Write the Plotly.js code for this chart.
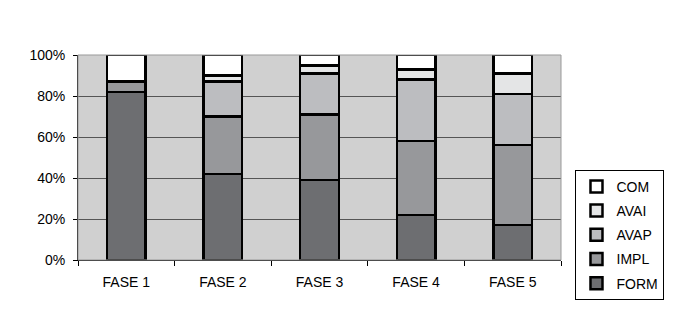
<!DOCTYPE html>
<html><head><meta charset="utf-8">
<script src="https://cdn.plot.ly/plotly-3.0.1.min.js"></script>
<style>body{margin:0;background:#fff}#c{width:676px;height:314px}</style>
</head><body><div id="c"></div>
<script>
const categories = ["FASE 1","FASE 2","FASE 3","FASE 4","FASE 5"];
const FORM = [82, 42, 39, 22, 17];
const IMPL = [5, 28, 32, 36, 39];
const AVAP = [0, 17, 20, 30, 25];
const AVAI = [0, 3, 4, 5, 10];
const COM  = [13, 10, 5, 7, 9];
const seriesNames = ["FORM","IMPL","AVAP","AVAI","COM"];
const seriesValues = [FORM, IMPL, AVAP, AVAI, COM];
const colors = ["#6d6e71","#97989b","#bcbdc0","#e4e5e6","#ffffff"];
const yTicks = [0,20,40,60,80,100];
const yTickLabels = ["0%","20%","40%","60%","80%","100%"];

const traces = seriesNames.map((n,i)=>({
  type:"bar", name:n, x:categories, y:seriesValues[i], width:0.4,
  legendgroup:n, legendrank: seriesNames.length - i,
  marker:{color:colors[i], line:{color:"#000", width:2.5}},
  hoverinfo:"skip"
}));

const layout = {
  width:676, height:314,
  margin:{l:78, r:108, t:55, b:54},
  paper_bgcolor:"#fff", plot_bgcolor:"#d0d0d0",
  barmode:"stack",
  font:{family:"Liberation Sans, Arial, sans-serif", size:14, color:"#000"},
  xaxis:{showgrid:false, ticks:"outside", tickson:"boundaries", ticklen:5, tickcolor:"#000",
         showline:true, linecolor:"#000", linewidth:1, mirror:false, tickfont:{size:14},
         ticklabelstandoff:9},
  yaxis:{range:[0,100], tickvals:yTicks, ticktext:yTickLabels, ticks:"outside", ticklen:4,
         tickcolor:"#000", showline:true, linecolor:"#000", linewidth:1,
         showgrid:true, gridcolor:"#555", gridwidth:1, zeroline:false, tickfont:{size:14},
         ticklabelstandoff:5},
  shapes:[{type:"rect", xref:"paper", yref:"paper", x0:0, x1:1, y0:0, y1:1, line:{color:"#999", width:1}}],
  legend:{x:1.03, xanchor:"left", y:0.44, yanchor:"top", traceorder:"grouped",
          tracegroupgap:3, bordercolor:"#000", borderwidth:1, bgcolor:"#fff",
          itemwidth:30, font:{size:14}}
};
Plotly.newPlot("c", traces, layout, {displayModeBar:false, staticPlot:true});
</script></body></html>
